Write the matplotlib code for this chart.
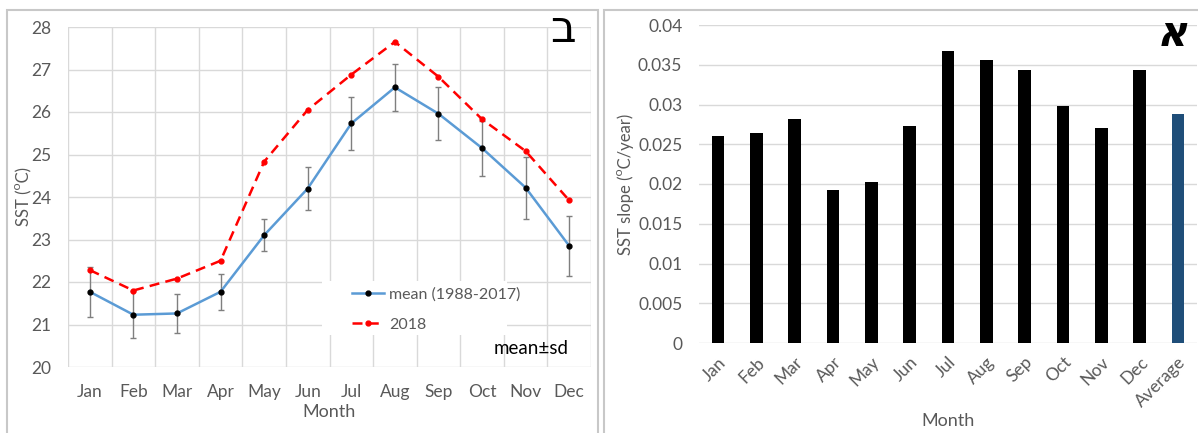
import matplotlib
matplotlib.use("Agg")
import matplotlib.pyplot as plt
from matplotlib.patches import Rectangle
import numpy as np

months = ["Jan", "Feb", "Mar", "Apr", "May", "Jun", "Jul", "Aug", "Sep", "Oct", "Nov", "Dec"]
mean_sst = [21.77, 21.23, 21.26, 21.77, 23.10, 24.20, 25.73, 26.58, 25.96, 25.15, 24.22, 22.85]
sd_sst = [0.59, 0.55, 0.45, 0.42, 0.38, 0.50, 0.62, 0.55, 0.62, 0.65, 0.73, 0.70]
sst_2018 = [22.28, 21.80, 22.08, 22.50, 24.83, 26.05, 26.88, 27.65, 26.83, 25.83, 25.08, 23.92]

slope_cats = months + ["Average"]
slope_vals = [0.0261, 0.0264, 0.0282, 0.0193, 0.0203, 0.0273, 0.0367, 0.0356,
              0.0344, 0.0298, 0.0271, 0.0343, 0.0288]

plt.rcParams['font.family'] = ['Lato', 'DejaVu Sans']
W, H = 1198, 433
fig = plt.figure(figsize=(W / 100, H / 100), dpi=100)

def fx(x):
    return x / W

def fy(y):
    return 1 - y / H

# panel frames
fig.patches.append(Rectangle((fx(7), fy(440)), fx(591), fy(10) - fy(440),
                             transform=fig.transFigure, fill=False,
                             edgecolor="#c8c8c8", lw=1.5))
fig.patches.append(Rectangle((fx(604), fy(440)), fx(600), fy(10) - fy(440),
                             transform=fig.transFigure, fill=False,
                             edgecolor="#c8c8c8", lw=1.5))

tick_col = "#595959"
grid_col = "#d9d9d9"
tfs = 12.5

# ---------- Left panel ----------
ax1 = fig.add_axes([fx(68), fy(367), fx(591 - 68), fy(27) - fy(367)])
x = np.arange(len(months))
ax1.set_xlim(-0.5, len(months) - 0.5)
ax1.set_ylim(20, 28)
ax1.set_yticks(range(20, 29))
ax1.set_xticks(x)
ax1.set_xticklabels(months)
ax1.set_xticks(np.arange(-0.5, len(months)), minor=True)
ax1.grid(True, which="minor", axis="x", color=grid_col, lw=1)
ax1.grid(True, which="major", axis="y", color=grid_col, lw=1)
ax1.set_axisbelow(True)
for s in ax1.spines.values():
    s.set_visible(False)
ax1.tick_params(axis="both", which="both", length=0, colors=tick_col, labelsize=tfs)
ax1.tick_params(axis="x", pad=12)
ax1.tick_params(axis="y", pad=12)

ax1.errorbar(x, mean_sst, yerr=sd_sst, fmt="none", ecolor="#7f7f7f",
             elinewidth=1, capsize=2.5, capthick=1, zorder=2)
l1, = ax1.plot(x, mean_sst, color="#5b9bd5", lw=1.8, marker="o", ms=3.5,
               mfc="black", mec="black", zorder=3, label="mean (1988-2017)")
l2, = ax1.plot(x, sst_2018, color="#ff0000", lw=1.8, ls=(0, (4, 2.5)), marker="o",
               ms=3.5, mfc="#ff0000", mec="#ff0000", zorder=3, label="2018")

ax1.set_xlabel("Month", color=tick_col, fontsize=13, labelpad=3)
ax1.set_ylabel("SST (\u1d3cC)", color=tick_col, fontsize=12, labelpad=0)

# legend white box
ax1.add_patch(Rectangle((fx(322), fy(335)), fx(507 - 322), fy(281) - fy(335),
                        transform=fig.transFigure, facecolor="white",
                        edgecolor="none", zorder=4))
leg = ax1.legend(handles=[l1, l2], loc="upper left",
                 bbox_to_anchor=(fx(346), fy(281)), bbox_transform=fig.transFigure,
                 frameon=False, fontsize=11.5, handlelength=2.0, handletextpad=0.3,
                 labelspacing=1.0, borderaxespad=0)
for t in leg.get_texts():
    t.set_color(tick_col)
leg.set_zorder(5)

fig.text(fx(531), fy(348), "mean\u00b1sd", fontsize=13.5, color="black",
         ha="center", va="center")
fig.text(fx(563), fy(30), "\u05d1", fontsize=32, color="black",
         ha="center", va="center", family=["DejaVu Sans"])

# ---------- Right panel ----------
ax2 = fig.add_axes([fx(699), fy(343), fx(1197 - 699), fy(25) - fy(343)])
xc = np.arange(len(slope_cats))
colors = ["black"] * (len(slope_cats) - 1) + ["#1f4e79"]
ax2.bar(xc, slope_vals, width=0.33, color=colors, zorder=3)
ax2.set_xlim(-0.5, len(slope_cats) - 0.5)
ax2.set_ylim(0, 0.04)
yt = [0, 0.005, 0.01, 0.015, 0.02, 0.025, 0.03, 0.035, 0.04]
ax2.set_yticks(yt)
ax2.set_yticklabels(["0", "0.005", "0.01", "0.015", "0.02", "0.025", "0.03", "0.035", "0.04"])
ax2.set_xticks(xc)
ax2.set_xticklabels(slope_cats, rotation=45, ha="right", rotation_mode="anchor")
ax2.grid(True, axis="y", color=grid_col, lw=1)
ax2.set_axisbelow(True)
for s in ax2.spines.values():
    s.set_visible(False)
ax2.tick_params(axis="both", length=0, colors=tick_col, labelsize=tfs)
ax2.tick_params(axis="y", pad=12)
ax2.tick_params(axis="x", pad=8)
ax2.set_xlabel("Month", color=tick_col, fontsize=13, labelpad=2)
ax2.set_ylabel("SST slope (\u1d3cC/year)", color=tick_col, fontsize=12, labelpad=3)

fig.text(fx(1172), fy(34), "\u05d0", fontsize=30, color="black",
         ha="center", va="center", family=["DejaVu Sans"], style="italic",
         weight="bold")

fig.savefig("out.png", dpi=100)
